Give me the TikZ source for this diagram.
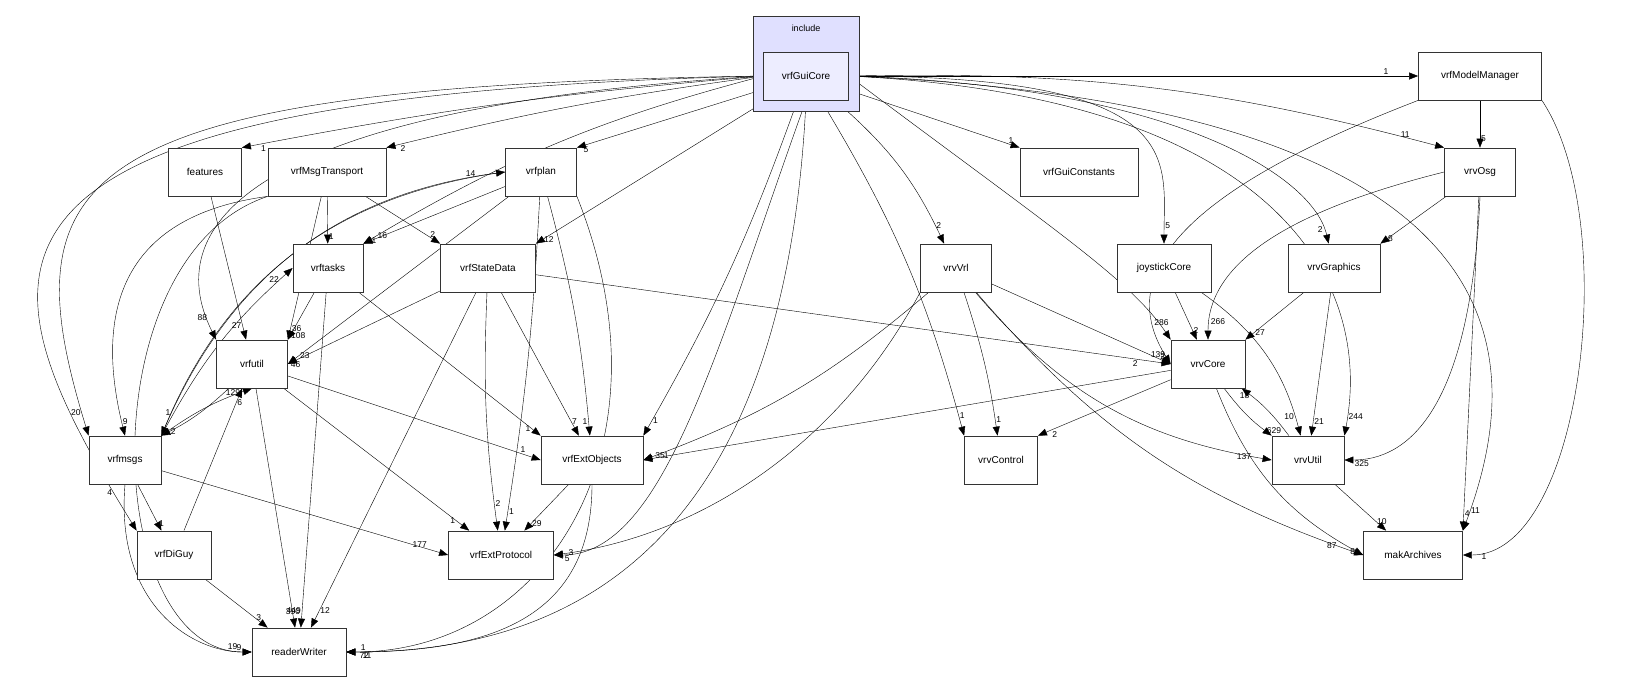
\documentclass[tikz,border=0pt]{standalone}
\usepackage{fontspec}
\setmainfont{Liberation Sans}
\usetikzlibrary{arrows.meta,backgrounds}

\tikzset{
  dir/.style={draw=black!80, thick, fill=white, minimum height=48pt, inner sep=2pt, font=\fontsize{10}{12}\selectfont},
  dep/.style={-{Triangle[length=9pt,width=7pt]}, thin, black},
  lbl/.style={font=\fontsize{8.5}{10}\selectfont, inner sep=1pt}
}

\begin{document}
\begin{tikzpicture}[x=1pt,y=-1pt]
\useasboundingbox (0,0) rectangle (1627,681);

% cluster
\filldraw[fill=blue!12!white, draw=black!80, thick] (753,16) rectangle (859,111);
\node[font=\fontsize{9}{11}\selectfont] (incl) at (806,28) {include};

% top level
\node[dir, fill=blue!7!white, minimum width=85pt] (guicore) at (806,76) {vrfGuiCore};
\node[dir, minimum width=123pt] (modelmgr) at (1480,76) {vrfModelManager};

% row 1
\node[dir, minimum width=73pt] (features) at (205,172) {features};
\node[dir, minimum width=118pt] (msgtrans) at (327,172) {vrfMsgTransport};
\node[dir, minimum width=71pt] (plan) at (541,172) {vrfplan};
\node[dir, minimum width=118pt] (guiconst) at (1079,172) {vrfGuiConstants};
\node[dir, minimum width=71pt] (osg) at (1480,172) {vrvOsg};

% row 2
\node[dir, minimum width=70pt] (tasks) at (328,268) {vrftasks};
\node[dir, minimum width=95pt] (statedata) at (488,268) {vrfStateData};
\node[dir, minimum width=71pt] (vrl) at (956,268) {vrvVrl};
\node[dir, minimum width=94pt] (joystick) at (1164,268) {joystickCore};
\node[dir, minimum width=92pt] (graphics) at (1334,268) {vrvGraphics};

% row 3
\node[dir, minimum width=71pt] (util) at (252,364) {vrfutil};
\node[dir, minimum width=74pt] (core) at (1208,364) {vrvCore};

% row 4
\node[dir, minimum width=72pt] (msgs) at (125,460) {vrfmsgs};
\node[dir, minimum width=102pt] (extobj) at (592,460) {vrfExtObjects};
\node[dir, minimum width=73pt] (control) at (1001,460) {vrvControl};
\node[dir, minimum width=72pt] (vutil) at (1308,460) {vrvUtil};

% row 5
\node[dir, minimum width=74pt] (diguy) at (174,555) {vrfDiGuy};
\node[dir, minimum width=105pt] (extproto) at (501,555) {vrfExtProtocol};
\node[dir, minimum width=99pt] (archives) at (1413,555) {makArchives};
\node[dir, minimum width=94pt] (reader) at (299,652) {readerWriter};

\begin{scope}[on background layer]
% from vrfGuiCore
\draw[dep] (guicore) -- node[lbl,pos=.95,above left]{1} (modelmgr);
\draw[dep] (guicore.west) to[bend right=3] node[lbl,pos=.97,below right]{1} (features.north east);
\draw[dep] (guicore.west) to[bend right=3] node[lbl,pos=.97,below right]{2} (msgtrans.north east);
\draw[dep] (guicore) -- node[lbl,pos=.97,below right]{5} (plan.north east);
\draw[dep] (guicore) -- node[lbl,pos=.95,above]{1} (guiconst.north west);
\draw[dep] (guicore.east) to[bend left=8] node[lbl,pos=.95,above left]{11} (osg.north west);
\draw[dep] (guicore.west) to[bend right=8] node[lbl,pos=.97,right]{16} (tasks.north east);
\draw[dep] (guicore) -- node[lbl,pos=.97,right]{12} (statedata.north east);
\draw[dep] (guicore) to[bend left=12] node[lbl,pos=.9,right]{2} (vrl);
\draw[dep] (guicore.east) .. controls +(340,0) and +(0,-110) .. node[lbl,pos=.93,right]{5} (joystick);
\draw[dep] (guicore.east) .. controls +(330,10) and +(-20,-90) .. node[lbl,pos=.93,left]{2} (graphics);
\draw[dep] (guicore.west) .. controls +(-500,30) and +(-60,-120) .. node[lbl,pos=.95,above left]{88} (util.north west);
\draw[dep] (guicore.west) .. controls +(-700,10) and +(-80,-260) .. node[lbl,pos=.97,left]{20} (msgs.north west);
\draw[dep] (guicore.west) .. controls +(-850,20) and +(-160,-260) .. node[lbl,pos=.95,left]{4} (diguy.north west);
\draw[dep] (guicore) to[bend left=5] node[lbl,pos=.96,right]{1} (extobj.north east);
\draw[dep] (guicore.south) .. controls +(-90,250) and +(110,0) .. node[lbl,pos=.97,below right]{5} (extproto.east);
\draw[dep] (guicore.south) .. controls +(-20,420) and +(250,0) .. node[lbl,pos=.98,below right]{11} (reader.east);
\draw[dep] (guicore) to[bend left=8] node[lbl,pos=.95,right]{1} (control.north west);
\draw[dep] (guicore.east) .. controls +(200,150) and +(-40,-60) .. node[lbl,pos=.93,above]{286} (core.north west);
\draw[dep] (guicore.east) .. controls +(420,20) and +(30,-160) .. node[lbl,pos=.96,right]{244} (vutil.north east);
\draw[dep] (guicore.east) .. controls +(700,30) and +(60,-160) .. node[lbl,pos=.96,right]{11} (archives.north east);
% vrfModelManager
\draw[dep] (modelmgr) -- node[lbl,pos=.8,right]{5} (osg);
\draw[dep] (modelmgr.south west) .. controls +(-260,100) and +(-50,-80) .. node[lbl,pos=.97,left]{2} (core.west);
\draw[dep] (modelmgr.south east) .. controls +(80,120) and +(120,0) .. node[lbl,pos=.95,below right]{1} (archives.east);
% vrfMsgTransport
\draw[dep] (msgtrans) -- node[lbl,pos=.85,right]{1} (tasks);
\draw[dep] (msgtrans) -- node[lbl,pos=.9,above]{2} (statedata.north west);
\draw[dep] (msgtrans) -- node[lbl,pos=.92,right]{36} (util.north east);
\draw[dep] (msgtrans.south west) .. controls +(-150,20) and +(-30,-120) .. node[lbl,pos=.96,right]{9} (msgs.north);
\draw[dep] (msgtrans.south west) .. controls +(-180,60) and +(-150,0) .. node[lbl,pos=.97,above left]{19} (reader.west);
% vrfplan
\draw[dep] (plan) -- node[lbl,pos=.95,right]{1} (tasks.north east);
\draw[dep] (plan) -- node[lbl,pos=.95,right]{23} (util.east);
\draw[dep] (plan.west) to[bend right=30] node[lbl,pos=.95,left]{1} (msgs.north east);
\draw[dep] (plan) to[bend left=5] node[lbl,pos=.95,left]{1} (extobj);
\draw[dep] (plan) to[bend left=3] node[lbl,pos=.95,right]{1} (extproto);
\draw[dep] (plan.south east) .. controls +(100,250) and +(200,0) .. node[lbl,pos=.98,below right]{72} (reader.east);
\draw[dep] (msgs.north east) to[bend left=30] node[lbl,pos=.93,above]{14} (plan.west);
% features, vrftasks
\draw[dep] (features) -- node[lbl,pos=.9,left]{27} (util);
\draw[dep] (tasks) -- node[lbl,pos=.92,right]{108} (util.north east);
\draw[dep] (tasks) -- node[lbl,pos=.95,left]{1} (extobj.north west);
\draw[dep] (tasks) -- node[lbl,pos=.95,left]{449} (reader);
\draw[dep] (msgs.north east) to[bend left=10] node[lbl,pos=.93,left]{22} (tasks.west);
% vrfStateData
\draw[dep] (statedata) -- node[lbl,pos=.95,below]{46} (util.east);
\draw[dep] (statedata) -- node[lbl,pos=.9,right]{7} (extobj);
\draw[dep] (statedata) to[bend right=5] node[lbl,pos=.9,right]{2} (extproto);
\draw[dep] (statedata) -- node[lbl,pos=.95,right]{12} (reader);
\draw[dep] (statedata) -- node[lbl,pos=.95,below left]{2} (core.west);
% vrfutil, vrfmsgs
\draw[dep] (util) to[bend left=8] node[lbl,pos=.9,right]{2} (msgs.north east);
\draw[dep] (msgs.north east) to[bend left=8] node[lbl,pos=.9,left]{129} (util.south);
\draw[dep] (diguy) -- node[lbl,pos=.9,right]{6} (util);
\draw[dep] (util) -- node[lbl,pos=.93,above]{1} (extobj.west);
\draw[dep] (util) -- node[lbl,pos=.93,left]{1} (extproto);
\draw[dep] (util) -- node[lbl,pos=.95,above]{390} (reader);
\draw[dep] (msgs) -- node[lbl,pos=.85,right]{1} (diguy);
\draw[dep] (msgs) -- node[lbl,pos=.93,above left]{177} (extproto.west);
\draw[dep] (msgs.south) .. controls +(-10,120) and +(-60,0) .. node[lbl,pos=.95,above left]{9} (reader.west);
\draw[dep] (diguy) -- node[lbl,pos=.8,right]{3} (reader);
% vrfExtObjects
\draw[dep] (extobj) -- node[lbl,pos=.85,right]{29} (extproto);
\draw[dep] (extobj.south) .. controls +(0,130) and +(150,0) .. node[lbl,pos=.97,above right]{1} (reader.east);
% vrvVrl
\draw[dep] (vrl) to[bend left=10] node[lbl,pos=.97,right]{35} (extobj.east);
\draw[dep] (vrl.south west) .. controls +(-80,150) and +(150,-20) .. node[lbl,pos=.97,right]{3} (extproto.east);
\draw[dep] (vrl) to[bend left=5] node[lbl,pos=.9,right]{1} (control);
\draw[dep] (vrl) -- node[lbl,pos=.93,above]{139} (core.west);
\draw[dep] (vrl) to[bend right=20] node[lbl,pos=.95,left]{137} (vutil.west);
\draw[dep] (vrl) to[bend right=15] node[lbl,pos=.95,left]{87} (archives.west);
% joystickCore, vrvGraphics, vrvOsg
\draw[dep] (joystick) -- node[lbl,pos=.8,right]{2} (core);
\draw[dep] (joystick) to[bend left=20] node[lbl,pos=.9,left]{10} (vutil);
\draw[dep] (graphics) -- node[lbl,pos=.85,right]{27} (core.north east);
\draw[dep] (graphics) -- node[lbl,pos=.9,right]{21} (vutil);
\draw[dep] (osg) -- node[lbl,pos=.9,right]{8} (graphics.north east);
\draw[dep] (osg.west) .. controls +(-120,30) and +(0,-90) .. node[lbl,pos=.93,right]{266} (core.north);
\draw[dep] (osg.south) .. controls +(-10,220) and +(60,0) .. node[lbl,pos=.95,below right]{325} (vutil.east);
\draw[dep] (osg) -- node[lbl,pos=.95,right]{4} (archives.north east);
% vrvCore, vrvUtil
\draw[dep] (core) -- node[lbl,pos=.95,left]{1} (extobj.east);
\draw[dep] (core) -- node[lbl,pos=.9,below right]{2} (control.north east);
\draw[dep] (core) to[bend right=8] node[lbl,pos=.9,right]{629} (vutil.north west);
\draw[dep] (core) to[bend right=20] node[lbl,pos=.97,left]{8} (archives.west);
\draw[dep] (vutil) to[bend right=8] node[lbl,pos=.85,left]{18} (core);
\draw[dep] (vutil) -- node[lbl,pos=.8,right]{10} (archives);
\end{scope}
\end{tikzpicture}
\end{document}
